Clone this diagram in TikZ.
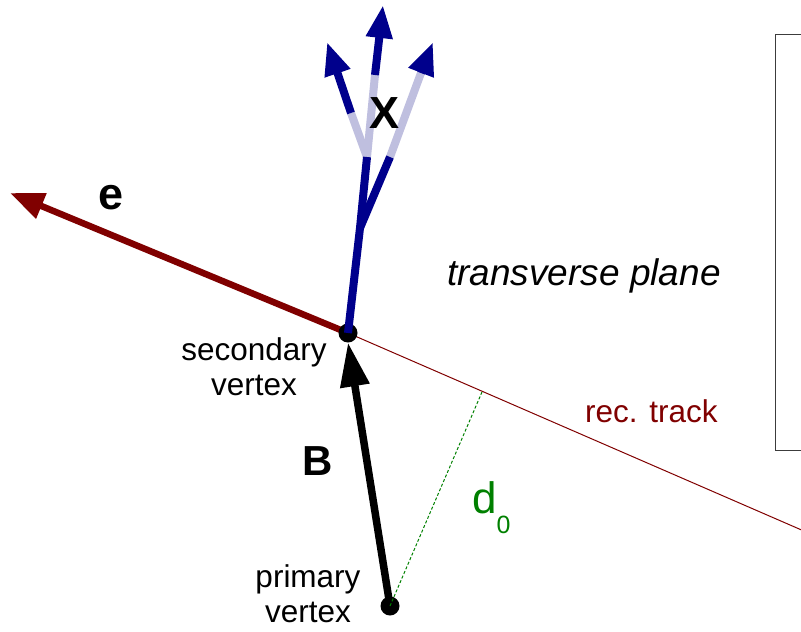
\documentclass[tikz,border=0pt]{standalone}
\usepackage{fontspec}
\setmainfont{Liberation Sans}
\usetikzlibrary{arrows.meta}
\definecolor{trkred}{RGB}{128,0,0}
\definecolor{navyb}{RGB}{0,0,140}
\definecolor{lightb}{RGB}{191,191,223}
\definecolor{dgreen}{RGB}{0,128,0}
\definecolor{boxgray}{RGB}{60,60,60}
\begin{document}
\begin{tikzpicture}[x=1pt,y=-1pt,
  lbl/.style={inner sep=0pt, font=\fontsize{31.5}{36}\selectfont},
  bigl/.style={inner sep=0pt, font=\fontsize{45}{50}\selectfont\bfseries},
  dark/.style={navyb, line width=8pt},
  pale/.style={lightb, line width=8pt},
  btip/.style={-{Triangle[length=33pt,width=25pt]}},
  vdot/.style={circle, fill=black, minimum size=19pt, inner sep=0pt}]
\clip (0,0) rectangle (801,632);
% points
\coordinate (svc) at (348,333);
\coordinate (pvc) at (390,606);
\coordinate (etip) at (10,193);
\coordinate (trkend) at (820,538);
\coordinate (foot) at (482,392);
\coordinate (j1) at (360,228);
\coordinate (j2) at (367,157);
\coordinate (l1) at (351,113);
\coordinate (ltip) at (327,42);
\coordinate (m1) at (375,75);
\coordinate (mtip) at (383,5);
\coordinate (r0) at (390,157);
\coordinate (r1) at (421,73);
\coordinate (rtip) at (433,42);
% box
\draw[boxgray, line width=1.2pt] (820,34.3) -| (775.7,450.3) -- (820,450.3);
% track
\draw[trkred, line width=1pt] (svc) -- (trkend);
% electron
\draw[trkred, line width=6.5pt, -{Triangle[length=34pt,width=26pt]}] (svc) -- (etip);
% B
\draw[black, line width=7.5pt, -{Triangle[length=44pt,width=28pt]}] (pvc) -- ([yshift=-9.5pt]svc);
\node[vdot] (pv) at (pvc) {};
\node[vdot] (sv) at (svc) {};
% d0
\draw[dgreen, line width=1pt, dash pattern=on 3pt off 2pt] (pv.center) -- (foot);
% X decay
\draw[pale] (j2) -- (l1);
\draw[pale] (j2) -- (m1);
\draw[pale] (r0) -- (r1);
\draw[dark] (sv.center) -- (j1) -- (j2);
\draw[dark] (j1) -- (r0);
\draw[dark, btip] (l1) -- (ltip);
\draw[dark, btip] (m1) -- (mtip);
\draw[dark, btip] (r1) -- (rtip);
% labels
\node[bigl] (xl) at (385,113) {X};
\node[bigl] (el) at (111,198) {e};
\node[inner sep=0pt, font=\fontsize{42}{46}\selectfont\bfseries] (bl) at (318,461) {B};
\node[lbl, anchor=base] (sec1) at (254,360) {secondary};
\node[lbl, anchor=base] (sec2) at (254,395) {vertex};
\node[lbl, anchor=base] (pri1) at (308,587) {primary};
\node[lbl, anchor=base] (pri2) at (308,622) {vertex};
\node[inner sep=0pt, anchor=base west, font=\fontsize{37}{42}\selectfont\itshape] (tp) at (447,285) {transverse plane};
\node[lbl, anchor=base west, text=trkred] (rt) at (585,422) {rec. track};
\node[inner sep=0pt, anchor=base west, text=dgreen, font=\fontsize{44}{48}\selectfont] (d0) at (472,513) {d\raisebox{-20pt}{\fontsize{25}{28}\selectfont 0}};
\end{tikzpicture}
\end{document}
